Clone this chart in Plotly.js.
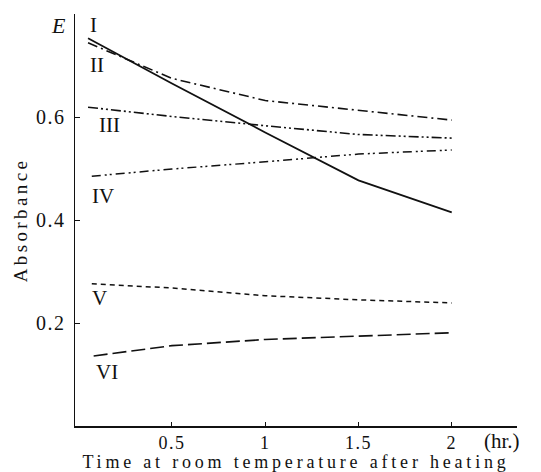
<!DOCTYPE html>
<html>
<head>
<meta charset="utf-8">
<script src="https://cdn.plot.ly/plotly-3.0.1.min.js"></script>
<style>
html,body{margin:0;padding:0;background:#fff;}
#chart{width:541px;height:472px;}
#chart .xtitle{letter-spacing:3.8px;}
#chart .ytitle{letter-spacing:3.4px;}
#chart .xtick text, #chart .ytick text{letter-spacing:1.5px;}
</style>
</head>
<body>
<div id="chart"></div>
<script>
// Data (time in hr, absorbance E)
var timeI = [0.05, 0.5, 1.0, 1.5, 2.0];
var absI = [0.753, 0.665, 0.570, 0.477, 0.415];
var timeII = [0.05, 0.5, 1.0, 1.5, 2.0];
var absII = [0.744, 0.675, 0.632, 0.613, 0.594];
var timeIII = [0.05, 0.5, 1.0, 1.5, 2.0];
var absIII = [0.619, 0.601, 0.583, 0.566, 0.559];
var timeIV = [0.07, 0.5, 1.0, 1.5, 2.0];
var absIV = [0.485, 0.499, 0.513, 0.528, 0.536];
var timeV = [0.07, 0.5, 1.0, 1.5, 2.0];
var absV = [0.276, 0.268, 0.253, 0.245, 0.239];
var timeVI = [0.08, 0.5, 1.0, 1.5, 2.0];
var absVI = [0.136, 0.156, 0.168, 0.175, 0.181];

var curveNames = ["I", "II", "III", "IV", "V", "VI"];
var labelX = [0.05, 0.05, 0.10, 0.06, 0.06, 0.08];
var labelY = [0.778, 0.701, 0.584, 0.447, 0.249, 0.105];
var xTickVals = [0.5, 1, 1.5, 2];
var xTickText = ["0.5", "1", "1.5", "2"];
var yTickVals = [0.2, 0.4, 0.6];
var yTickText = ["0.2", "0.4", "0.6"];

var serif = "'Liberation Serif', serif";
var dashes = ["solid", "10px,4px,2px,4px", "10px,3px,2px,3px,2px,3px", "9px,4px,2px,3px,2px,4px", "5px,4px", "14px,5px"];
var widths = [1.8, 1.6, 1.6, 1.5, 1.5, 1.6];
var xs = [timeI, timeII, timeIII, timeIV, timeV, timeVI];
var ys = [absI, absII, absIII, absIV, absV, absVI];

var traces = xs.map(function (x, i) {
  return {
    x: x, y: ys[i], name: curveNames[i], type: "scatter", mode: "lines",
    line: {color: "#111", width: widths[i], dash: dashes[i]},
    showlegend: false, hoverinfo: "skip"
  };
});

var annotations = curveNames.map(function (n, i) {
  return {x: labelX[i], y: labelY[i], xref: "x", yref: "y", text: n, showarrow: false,
    xanchor: "left", yanchor: "middle", font: {family: serif, size: 21, color: "#111"}};
});
annotations.push({x: -0.016, y: 0.778, xref: "paper", yref: "y", text: "<i>E</i>", showarrow: false,
  xanchor: "right", yanchor: "middle", font: {family: serif, size: 22, color: "#111"}});
annotations.push({x: 2.27, y: -0.036, xref: "x", yref: "paper", text: "(hr.)", showarrow: false,
  xanchor: "center", yanchor: "middle", font: {family: serif, size: 21, color: "#111"}});

var layout = {
  width: 541, height: 472,
  margin: {l: 75, r: 24, t: 14, b: 46},
  paper_bgcolor: "#fff", plot_bgcolor: "#fff",
  font: {family: serif, color: "#111"},
  xaxis: {
    range: [-0.02, 2.35], showgrid: false, zeroline: false,
    showline: true, linecolor: "#111", linewidth: 1.5,
    ticks: "inside", ticklen: 4, tickcolor: "#111",
    tickvals: xTickVals, ticktext: xTickText,
    tickfont: {family: serif, size: 18, color: "#111"},
    title: {text: "Time at room temperature after heating", font: {family: serif, size: 18, color: "#111"}, standoff: 3}
  },
  yaxis: {
    range: [0, 0.8], showgrid: false, zeroline: false,
    showline: true, linecolor: "#111", linewidth: 1.5,
    ticks: "inside", ticklen: 5, tickcolor: "#111",
    ticklabelstandoff: 4,
    tickvals: yTickVals, ticktext: yTickText,
    tickfont: {family: serif, size: 20, color: "#111"},
    title: {text: "Absorbance", font: {family: serif, size: 19, color: "#111"}, standoff: 8}
  },
  annotations: annotations
};

Plotly.newPlot("chart", traces, layout, {staticPlot: true, displayModeBar: false});
</script>
</body>
</html>
